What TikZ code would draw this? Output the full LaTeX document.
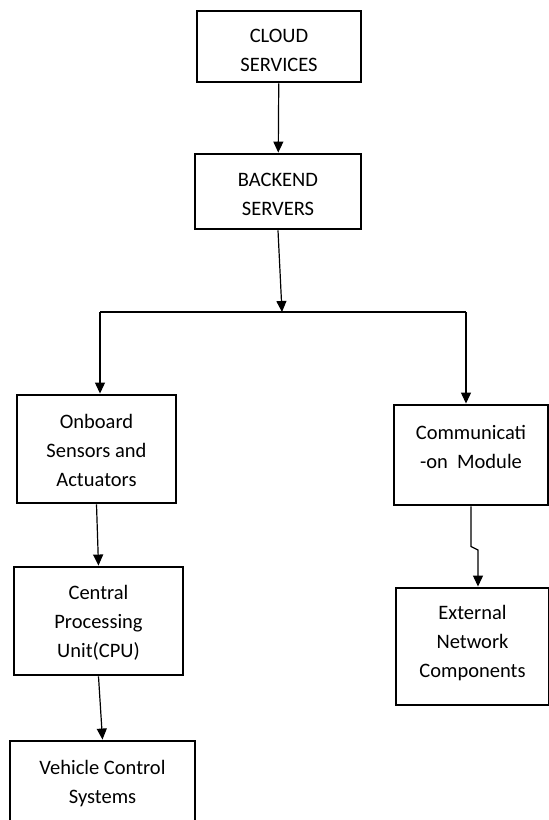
\documentclass[tikz,border=0pt]{standalone}
\usepackage{fontspec}
\setmainfont{Carlito}
\usetikzlibrary{arrows.meta}
\newcommand\lift[1]{\rule{0pt}{#1}}
\begin{document}
\begin{tikzpicture}[x=1pt,y=-1pt,
        box/.style={draw,line width=2.9pt,align=center,inner sep=2pt,
                font=\fontsize{20.5}{29}\selectfont},
        arr/.style={line width=1.2pt,-{Triangle[width=10pt,length=11pt]}}]
        \useasboundingbox (0,0) rectangle (549,820);
        \node (cloud) [box,minimum width=164,minimum height=71] at (279,46.5) {\lift{22pt}CLOUD\\SERVICES};
        \node (backend) [box,minimum width=166,minimum height=75] at (278,191.5) {\lift{20pt}BACKEND\\SERVERS};
        \node (onboard) [box,minimum width=159,minimum height=108] at (96.5,449) {\lift{17pt}Onboard\\Sensors and\\Actuators};
        \node (comm) [box,minimum width=154,minimum height=100,text depth=20pt] at (471,455) {\lift{17pt}Communicati\\-on~~Module};
        \node (cpu) [box,minimum width=169,minimum height=108] at (98.5,621) {\lift{17pt}Central\\Processing\\Unit(CPU)};
        \node (ext) [box,minimum width=153,minimum height=117,text depth=14pt] at (472.5,646.5) {\lift{17pt}External\\Network\\Components};
        \node (vehicle) [box,minimum width=185,minimum height=83] at (102.5,782.5) {\lift{17pt}Vehicle Control\\Systems};
        \coordinate (split) at (282,312);
        \coordinate (lft) at (100,312);
        \coordinate (rgt) at (466,312);
        \coordinate (jog) at (478,550);
        \draw[arr] (cloud) -- (backend);
        \draw[arr] (backend.south) -- (split);
        \draw[line width=1.2pt] (lft) -- (rgt);
        \draw[arr] (lft) -- (lft |- onboard.north);
        \draw[arr] (rgt) -- (rgt |- comm.north);
        \draw[arr] (onboard.south) -- (cpu.north);
        \draw[arr] (cpu.south) -- (vehicle.north);
        \draw[arr] (comm.south) -- ++(0,40) -- (jog) -- (jog |- ext.north);
\end{tikzpicture}
\end{document}
